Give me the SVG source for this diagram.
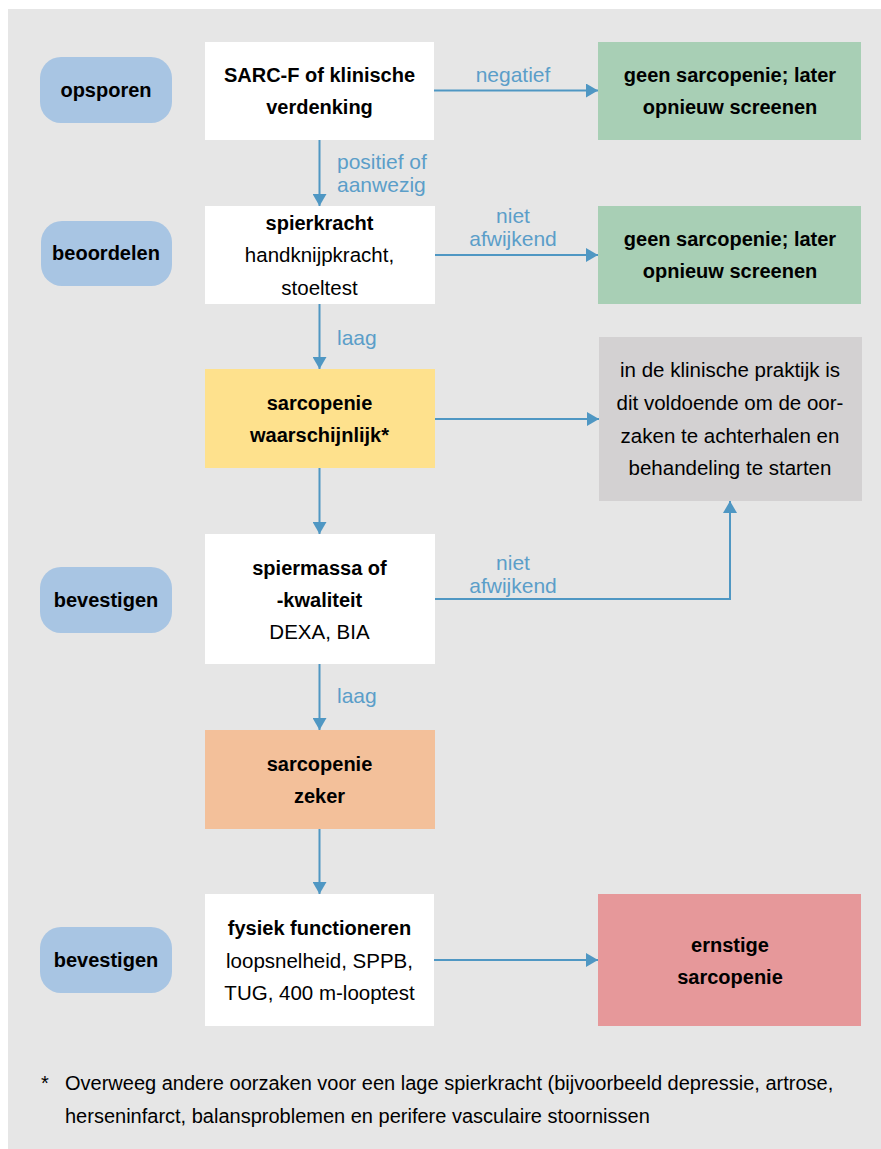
<svg xmlns="http://www.w3.org/2000/svg" width="881" height="1149" viewBox="0 0 881 1149">
<defs>
<style>
.bg{fill:#e6e6e6}
.pill{fill:#a8c5e3}
.white{fill:#ffffff}
.green{fill:#a8cfb5}
.yellow{fill:#fee18d}
.orange{fill:#f3c09a}
.red{fill:#e6989a}
.grey{fill:#d3d1d2}
text{font-family:"Liberation Sans","DejaVu Sans",sans-serif;fill:#000;text-anchor:middle}
.b{font-weight:bold;font-size:20px}
.r{font-size:20.5px}
.lbl{font-size:21px;fill:#5b9ec9}
.lblL{text-anchor:start}
.conn{stroke:#4f97c3;stroke-width:2;fill:none}
.foot{font-size:20px;text-anchor:start}
</style>
<marker id="ah" viewBox="0 0 12 14" refX="12" refY="7" markerWidth="12" markerHeight="14" markerUnits="userSpaceOnUse" orient="auto">
<path d="M0,0 L12,7 L0,14 Z" fill="#4f97c3"/>
</marker>
</defs>
<rect class="bg" x="8" y="9" width="873" height="1140"/>

<g id="connectors">
<line class="conn" x1="434" y1="90.5" x2="598" y2="90.5" marker-end="url(#ah)"/>
<line class="conn" x1="319.5" y1="140" x2="319.5" y2="206" marker-end="url(#ah)"/>
<line class="conn" x1="435" y1="255" x2="598" y2="255" marker-end="url(#ah)"/>
<line class="conn" x1="319.5" y1="304" x2="319.5" y2="369" marker-end="url(#ah)"/>
<line class="conn" x1="435" y1="419" x2="599" y2="419" marker-end="url(#ah)"/>
<line class="conn" x1="319.5" y1="468" x2="319.5" y2="534" marker-end="url(#ah)"/>
<polyline class="conn" points="435,599 730,599 730,501" marker-end="url(#ah)"/>
<line class="conn" x1="319.5" y1="664" x2="319.5" y2="730" marker-end="url(#ah)"/>
<line class="conn" x1="319.5" y1="829" x2="319.5" y2="894" marker-end="url(#ah)"/>
<line class="conn" x1="434" y1="960" x2="598" y2="960" marker-end="url(#ah)"/>
<text class="lbl" x="513" y="82">negatief</text>
<text class="lbl lblL" x="337" y="169">positief of</text>
<text class="lbl lblL" x="337" y="192">aanwezig</text>
<text class="lbl" x="513" y="223">niet</text>
<text class="lbl" x="513" y="246">afwijkend</text>
<text class="lbl lblL" x="337" y="345">laag</text>
<text class="lbl" x="513" y="570">niet</text>
<text class="lbl" x="513" y="593">afwijkend</text>
<text class="lbl lblL" x="337" y="703">laag</text>
</g>

<g id="stage-opsporen"><rect class="pill" x="40" y="57" width="132" height="66" rx="21"/><text class="b" x="106" y="97">opsporen</text></g>
<g id="stage-beoordelen"><rect class="pill" x="41" y="221" width="131" height="65" rx="21"/><text class="b" x="106" y="260">beoordelen</text></g>
<g id="stage-bevestigen1"><rect class="pill" x="40" y="567" width="132" height="66" rx="21"/><text class="b" x="106" y="607">bevestigen</text></g>
<g id="stage-bevestigen2"><rect class="pill" x="40" y="927" width="132" height="66" rx="21"/><text class="b" x="106" y="967">bevestigen</text></g>

<g id="sarcf"><rect class="white" x="205" y="42" width="229" height="98"/><text class="b" x="319.5" y="82">SARC-F of klinische</text><text class="b" x="319.5" y="114">verdenking</text></g>
<g id="geen1"><rect class="green" x="598" y="42" width="263" height="98"/><text class="b" x="730" y="82">geen sarcopenie; later</text><text class="b" x="730" y="114">opnieuw screenen</text></g>

<g id="spierkracht"><rect class="white" x="205" y="206" width="230" height="98"/><text class="b" x="319.5" y="230">spierkracht</text><text class="r" x="319.5" y="262">handknijpkracht,</text><text class="r" x="319.5" y="295">stoeltest</text></g>
<g id="geen2"><rect class="green" x="598" y="206" width="263" height="98"/><text class="b" x="730" y="246">geen sarcopenie; later</text><text class="b" x="730" y="278">opnieuw screenen</text></g>

<g id="waarschijnlijk"><rect class="yellow" x="205" y="369" width="230" height="99"/><text class="b" x="319.5" y="410">sarcopenie</text><text class="b" x="319.5" y="442">waarschijnlijk*</text></g>
<g id="praktijk"><rect class="grey" x="599" y="337" width="263" height="164"/><text class="r" x="730" y="377">in de klinische praktijk is</text><text class="r" x="730" y="410">dit voldoende om de oor-</text><text class="r" x="730" y="443">zaken te achterhalen en</text><text class="r" x="730" y="475">behandeling te starten</text></g>

<g id="spiermassa"><rect class="white" x="205" y="534" width="230" height="130"/><text class="b" x="319.5" y="575">spiermassa of</text><text class="b" x="319.5" y="607">-kwaliteit</text><text class="r" x="319.5" y="639">DEXA, BIA</text></g>

<g id="zeker"><rect class="orange" x="205" y="730" width="230" height="99"/><text class="b" x="319.5" y="771">sarcopenie</text><text class="b" x="319.5" y="803">zeker</text></g>

<g id="fysiek"><rect class="white" x="205" y="894" width="229" height="132"/><text class="b" x="319.5" y="935">fysiek functioneren</text><text class="r" x="319.5" y="968">loopsnelheid, SPPB,</text><text class="r" x="319.5" y="1000">TUG, 400 m-looptest</text></g>
<g id="ernstig"><rect class="red" x="598" y="894" width="263" height="132"/><text class="b" x="730" y="952">ernstige</text><text class="b" x="730" y="984">sarcopenie</text></g>

<g id="footnote">
<text class="foot" x="41" y="1090">*</text>
<text class="foot" x="65" y="1090">Overweeg andere oorzaken voor een lage spierkracht (bijvoorbeeld depressie, artrose,</text>
<text class="foot" x="65" y="1123">herseninfarct, balansproblemen en perifere vasculaire stoornissen</text>
</g>
</svg>
